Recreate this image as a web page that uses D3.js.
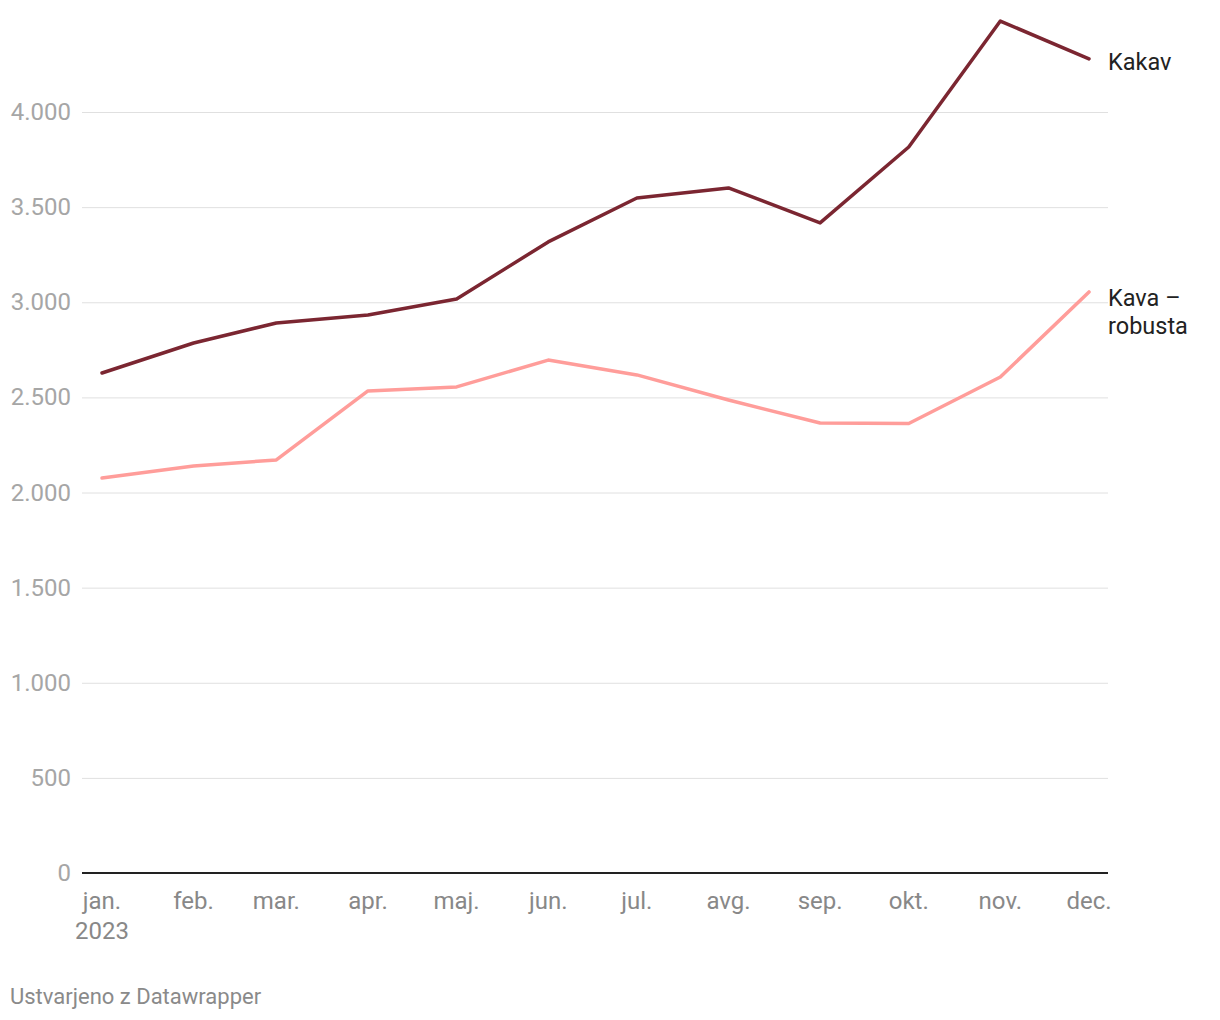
<!DOCTYPE html>
<html><head><meta charset="utf-8">
<script src="https://cdn.jsdelivr.net/npm/d3@7"></script>
<style>
body{margin:0;background:#fff;font-family:Roboto,sans-serif;}
</style></head>
<body><svg id="c" width="1220" height="1020"></svg>
<script>
const months = ["2023-01-01","2023-02-01","2023-03-01","2023-04-01","2023-05-01","2023-06-01","2023-07-01","2023-08-01","2023-09-01","2023-10-01","2023-11-01","2023-12-01"];
const monthLabels = ["jan.","feb.","mar.","apr.","maj.","jun.","jul.","avg.","sep.","okt.","nov.","dec."];
const kakav = [2628,2786,2891,2933,3017,3317,3548,3601,3417,3816,4478,4279];
const kava = [2076,2139,2171,2534,2555,2696,2618,2486,2365,2363,2607,3054];
const yTicks = [0,500,1000,1500,2000,2500,3000,3500,4000];
const yTickLabels = ["0","500","1.000","1.500","2.000","2.500","3.000","3.500","4.000"];
const seriesNames = ["Kakav","Kava –|robusta"];
const seriesColors = ["#7b2631","#ff9d9a"];

const parse = d3.timeParse("%Y-%m-%d");
const dates = months.map(parse);
const svg = d3.select("#c");
const x = d3.scaleTime().domain([dates[0], dates[11]]).range([102, 1089]);
const y = d3.scaleLinear().domain([0, 4000]).range([873, 112]);

// gridlines
svg.append("g").selectAll("line").data(yTicks.filter(d=>d>0)).join("line")
  .attr("x1",82).attr("x2",1108).attr("y1",d=>y(d)+0.5).attr("y2",d=>y(d)+0.5)
  .attr("stroke","#e0e0e0").attr("stroke-width",1);
// y labels
svg.append("g").selectAll("text").data(yTicks).join("text")
  .attr("x",71).attr("y",d=>y(d)+8).attr("text-anchor","end")
  .attr("font-size",24).attr("fill","#a6a6a6").text((d,i)=>yTickLabels[i]);
// baseline
svg.append("line").attr("x1",82).attr("x2",1108).attr("y1",y(0)).attr("y2",y(0))
  .attr("stroke","#222").attr("stroke-width",2);
// x labels
const xg = svg.append("g");
xg.selectAll("text").data(dates).join("text")
  .attr("x",d=>x(d)).attr("y",909).attr("text-anchor","middle")
  .attr("font-size",24).attr("fill","#888").text((d,i)=>monthLabels[i]);
xg.append("text").attr("x",x(dates[0])).attr("y",939).attr("text-anchor","middle")
  .attr("font-size",24).attr("fill","#888").text("2023");

const line = d3.line().x((d,i)=>x(dates[i])).y(d=>y(d));
[kava,kakav].forEach((s,k)=>{
  const idx = k===0?1:0;
  svg.append("path").datum(s).attr("d",line).attr("fill","none")
    .attr("stroke",seriesColors[idx]).attr("stroke-width",3.5)
    .attr("stroke-linejoin","round").attr("stroke-linecap","round");
});
// series labels
svg.append("text").attr("x",1108).attr("y",70).attr("font-size",23.5).attr("fill","#222").text(seriesNames[0]);
const t2 = svg.append("text").attr("x",1108).attr("y",306).attr("font-size",23.5).attr("fill","#222");
seriesNames[1].split("|").forEach((s,i)=>t2.append("tspan").attr("x",1108).attr("dy",i?28:0).text(s));

svg.append("text").attr("x",10).attr("y",1004).attr("font-size",22).attr("fill","#8a8a8a").text("Ustvarjeno z Datawrapper");
</script></body></html>
